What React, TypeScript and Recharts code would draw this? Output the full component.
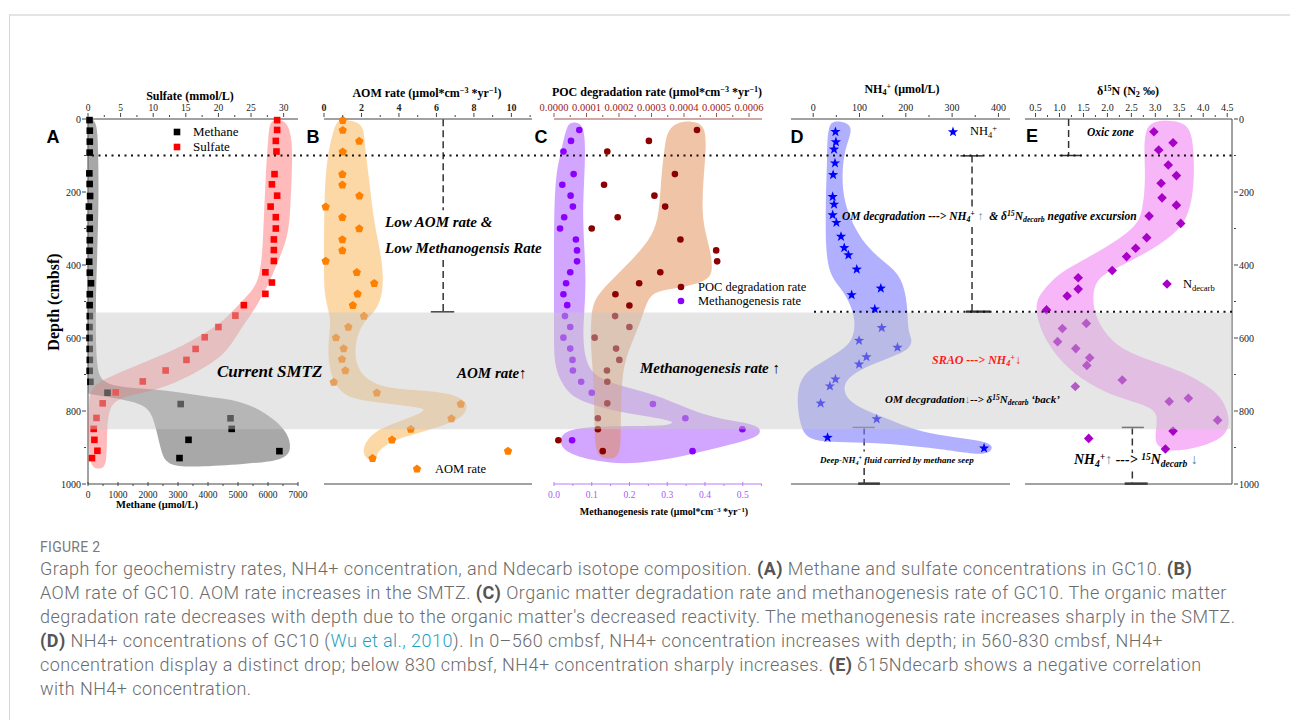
import React from "react";
import {
  ScatterChart,
  Scatter,
  XAxis,
  YAxis,
  ReferenceLine,
  ReferenceArea,
  Curve,
} from "recharts";

const SERIF = "'Liberation Serif', 'Times New Roman', serif";
const SANS = "'Liberation Sans', Arial, sans-serif";
const AX = "#444";

type Pt = [number, number]; // [value, depth cmbsf]

// ---------- Panel A ----------
const methane: Pt[] = [
  [50, 3], [60, 32], [60, 62], [55, 92], [45, 149], [55, 178], [70, 211], [30, 240],
  [55, 270], [60, 301], [60, 332], [50, 361], [40, 391], [60, 421], [100, 450], [60, 480],
  [55, 510], [60, 540], [50, 570], [50, 600], [55, 630], [60, 660], [55, 690], [80, 720],
  [650, 750], [3090, 781], [4750, 820], [4790, 849], [3350, 879], [6380, 910], [3050, 929],
];
const sulfate: Pt[] = [
  [29.0, 3], [29.0, 30], [28.8, 60], [28.9, 89], [28.6, 151], [28.2, 179], [29.0, 210],
  [28.0, 240], [28.8, 269], [28.8, 300], [28.5, 330], [28.5, 359], [28.5, 389], [27.2, 420],
  [28.2, 448], [27.2, 479], [23.9, 510], [22.6, 539], [20.0, 570], [17.9, 598], [16.5, 630],
  [15.1, 660], [11.9, 689], [8.4, 719], [4.25, 749], [2.25, 779], [1.3, 819], [0.87, 849],
  [0.98, 879], [1.44, 909], [0.61, 929],
];
const methaneBand: Pt[] = [
  [0, 0], [0, 0], [300, 0], [340, 85], [360, 220], [300, 390], [260, 500], [260, 600],
  [290, 670], [400, 722], [1200, 736], [2100, 740], [3000, 748], [3900, 760], [4800, 768],
  [5560, 788], [6230, 824], [6660, 860], [6800, 907], [6500, 936], [5230, 945], [3560, 954],
  [2600, 950], [2430, 907], [2280, 852], [2110, 802], [1780, 780], [1000, 766], [220, 756],
  [0, 752], [0, 752], [0, 400],
];
const sulfateBand: Pt[] = [
  [28.0, 1], [30.3, 1], [31.1, 39], [31.4, 94], [31.1, 213], [30.9, 286], [30.3, 341],
  [29.2, 386], [28.0, 441], [25.9, 514], [23.5, 572], [21.5, 633], [19.1, 669], [14.5, 715],
  [9.9, 747], [4.8, 762], [3.2, 790], [2.9, 852], [2.9, 945], [2.1, 960], [0.4, 957],
  [0.05, 898], [0.05, 816], [0.2, 761], [0.6, 736], [2.5, 712], [6.9, 679], [11.9, 643],
  [15.3, 613], [18.8, 578], [21.4, 543], [24.2, 488], [26.5, 445], [26.9, 304], [27.2, 167],
  [27.7, 30],
];

// ---------- Panel B ----------
const aom: Pt[] = [
  [1.0, 3], [1.0, 30], [1.88, 60], [1.0, 89], [0.98, 151], [0.98, 180], [1.89, 210],
  [0.09, 240], [0.98, 269], [1.88, 300], [0.98, 330], [0.98, 360], [0.09, 389], [1.75, 420],
  [2.68, 450], [1.79, 479], [1.54, 510], [2.13, 540], [1.3, 570], [0.64, 599], [1.05, 629],
  [0.96, 658], [1.14, 689], [0.52, 721], [2.82, 750], [7.3, 781], [6.8, 821], [4.63, 850],
  [3.63, 879], [9.82, 910], [2.59, 930],
];
const aomBand: Pt[] = [
  [0.68, 5], [0.95, -1], [2.05, 8], [2.15, 48], [2.25, 103], [2.42, 167], [2.6, 258],
  [2.88, 332], [3.15, 405], [3.15, 478], [2.78, 525], [2.15, 553], [1.8, 590], [1.62, 633],
  [1.8, 695], [3.0, 738], [5.5, 743], [7.2, 757], [7.75, 784], [7.4, 819], [6.25, 842],
  [4.65, 865], [3.6, 883], [2.8, 910], [2.8, 942], [2.15, 930], [2.05, 898], [2.6, 858],
  [3.7, 834], [4.9, 812], [5.55, 795], [4.75, 788], [3.15, 778], [1.5, 768], [0.7, 740],
  [0.28, 688], [0.2, 624], [0.36, 560], [0.28, 532], [0.0, 478], [0.0, 405], [0.0, 258],
  [0.1, 121], [0.45, 39],
];

// ---------- Panel C ----------
const methanogenesis: Pt[] = [
  [0.067, 30], [0.045, 60], [0.025, 89], [0.052, 151], [0.022, 180], [0.044, 210],
  [0.05, 240], [0.027, 269], [0.016, 300], [0.058, 330], [0.061, 360], [0.061, 390],
  [0.043, 420], [0.032, 450], [0.025, 480], [0.035, 510], [0.029, 540], [0.043, 570],
  [0.025, 599], [0.043, 629], [0.049, 660], [0.05, 689], [0.072, 720], [0.1, 750],
  [0.262, 781], [0.348, 820], [0.499, 850], [0.048, 880], [0.367, 910],
];
const poc: Pt[] = [
  [0.00044, 30], [0.000292, 60], [0.000164, 89], [0.000372, 151], [0.000154, 180],
  [0.000309, 210], [0.000342, 240], [0.000196, 269], [0.000116, 300], [0.000389, 330],
  [0.000499, 360], [0.000502, 390], [0.000327, 420], [0.000262, 450], [0.000189, 480],
  [0.000232, 511], [0.000188, 540], [0.000232, 570], [0.000125, 599], [0.000191, 629],
  [0.000201, 660], [0.000163, 689], [0.000164, 720], [0.000164, 779], [0.000135, 820],
  [0.000135, 850], [0.0000134, 880], [0.00015, 910],
];
const methanogenesisBand: Pt[] = [
  [0.036, 19], [0.042, 9], [0.08, 9], [0.083, 89], [0.08, 167], [0.076, 258], [0.08, 350],
  [0.085, 441], [0.08, 532], [0.076, 605], [0.085, 667], [0.106, 703], [0.168, 730],
  [0.266, 753], [0.354, 794], [0.434, 822], [0.53, 835], [0.55, 852], [0.54, 872],
  [0.468, 892], [0.362, 919], [0.273, 937], [0.184, 946], [0.112, 937], [0.04, 919],
  [0.012, 889], [0.022, 859], [0.069, 845], [0.166, 841], [0.228, 841], [0.305, 840],
  [0.322, 829], [0.27, 818], [0.156, 800], [0.084, 777], [0.04, 755], [0.016, 715],
  [0.0, 669], [0.0, 578], [0.0, 487], [0.0, 395], [0.0, 258], [0.005, 149], [0.018, 94],
  [0.027, 48],
];
const pocBand: Pt[] = [
  [0.00035, 30], [0.000379, 10], [0.00042, 5], [0.000464, 14], [0.000469, 76],
  [0.000459, 167], [0.000454, 277], [0.000479, 350], [0.00049, 414], [0.000474, 443],
  [0.000399, 461], [0.000319, 470], [0.000289, 489], [0.000269, 551], [0.000238, 615],
  [0.000212, 679], [0.000207, 761], [0.000205, 852], [0.000205, 927], [0.000163, 933],
  [0.000129, 923], [0.000124, 852], [0.000124, 761], [0.000118, 669], [0.000113, 624],
  [0.000113, 532], [0.000129, 485], [0.00018, 439], [0.000252, 375], [0.000304, 320],
  [0.000324, 258], [0.000329, 167], [0.00034, 76],
];

// ---------- Panel D ----------
const nh4: Pt[] = [
  [48, 35], [49, 63], [45, 83], [47, 121], [43, 153], [42, 213], [45, 234], [42, 263],
  [50, 284], [60, 322], [67, 353], [76, 373], [94, 412], [146, 464], [83, 482], [133, 521],
  [148, 572], [99, 607], [182, 626], [115, 652], [99, 672], [48, 713], [36, 732], [16, 779],
  [137, 822], [31, 873], [369, 902],
];
const nh4Band: Pt[] = [
  [34, 19], [43, 4], [74, 9], [85, 30], [70, 76], [63, 131], [63, 195], [74, 258],
  [103, 332], [146, 386], [186, 423], [200, 478], [204, 532], [205, 585], [215, 605],
  [207, 633], [168, 652], [124, 674], [81, 701], [63, 733], [74, 770], [110, 797],
  [168, 825], [218, 852], [290, 870], [355, 879], [392, 893], [380, 918], [346, 918],
  [274, 904], [180, 891], [108, 886], [36, 886], [-9, 877], [-25, 852], [-34, 797],
  [-34, 733], [-16, 692], [20, 665], [63, 633], [86, 605], [92, 551], [77, 496], [56, 459],
  [34, 423], [27, 350], [27, 277], [27, 213], [30, 121], [30, 58],
];

// ---------- Panel E ----------
const ndecarb: Pt[] = [
  [2.97, 35], [3.37, 65], [3.07, 85], [3.27, 126], [3.44, 155], [3.12, 176], [3.14, 216],
  [3.44, 236], [2.87, 266], [3.53, 286], [2.82, 325], [2.59, 354], [2.4, 377], [2.1, 415],
  [1.39, 435], [1.39, 466], [1.16, 485], [0.73, 523], [1.56, 560], [1.06, 574], [0.96, 610],
  [1.34, 629], [1.63, 654], [1.57, 675], [2.31, 715], [1.33, 733], [3.29, 774], [3.69, 765],
  [4.3, 825], [3.37, 855], [1.61, 875], [3.21, 904],
];
const ndecarbBand: Pt[] = [
  [2.8, 30], [2.92, 8], [3.23, 3], [3.64, 10], [3.78, 48], [3.81, 121], [3.8, 195],
  [3.67, 277], [3.32, 324], [2.77, 370], [2.21, 407], [1.79, 434], [1.69, 478], [1.72, 532],
  [1.93, 585], [2.28, 631], [2.91, 662], [3.6, 694], [4.02, 726], [4.37, 758], [4.56, 816],
  [4.51, 862], [4.16, 891], [3.44, 914], [3.0, 900], [3.0, 861], [3.06, 808], [2.87, 787],
  [2.24, 764], [1.61, 727], [1.06, 671], [0.71, 607], [0.54, 551], [0.5, 505], [0.61, 476],
  [0.99, 421], [1.54, 384], [2.24, 330], [2.59, 293], [2.73, 258], [2.8, 167], [2.76, 76],
];

// ---------- ticks ----------
const depthTicks = [0, 100, 200, 300, 400, 500, 600, 700, 800, 900, 1000];
const depthMajors = [0, 200, 400, 600, 800, 1000];
const sulfateTicks = [0, 2.5, 5, 7.5, 10, 12.5, 15, 17.5, 20, 22.5, 25, 27.5, 30];
const sulfateMajors = [0, 5, 10, 15, 20, 25, 30];
const methaneTicks = [0, 500, 1000, 1500, 2000, 2500, 3000, 3500, 4000, 4500, 5000, 5500, 6000, 6500, 7000];
const methaneMajors = [0, 1000, 2000, 3000, 4000, 5000, 6000, 7000];
const aomTicks = [0, 1, 2, 3, 4, 5, 6, 7, 8, 9, 10, 11];
const aomMajors = [0, 2, 4, 6, 8, 10];
const pocTicks = [0, 0.00005, 0.0001, 0.00015, 0.0002, 0.00025, 0.0003, 0.00035, 0.0004, 0.00045, 0.0005, 0.00055, 0.0006];
const pocMajors = [0, 0.0001, 0.0002, 0.0003, 0.0004, 0.0005, 0.0006];
const mgTicks = [0, 0.05, 0.1, 0.15, 0.2, 0.25, 0.3, 0.35, 0.4, 0.45, 0.5, 0.55];
const mgMajors = [0, 0.1, 0.2, 0.3, 0.4, 0.5];
const nh4Ticks = [0, 50, 100, 150, 200, 250, 300, 350, 400];
const nh4Majors = [0, 100, 200, 300, 400];
const dTicks = [0.5, 0.75, 1, 1.25, 1.5, 1.75, 2, 2.25, 2.5, 2.75, 3, 3.25, 3.5, 3.75, 4, 4.25, 4.5];
const dMajors = [0.5, 1, 1.5, 2, 2.5, 3, 3.5, 4, 4.5];

// SMTZ (cmbsf), oxic-zone base and the upper zone boundary used by the guide lines
const SMTZ = [530, 850];
const OXIC_BASE = 100;
const UPPER_BOUND = 528;

const pts = (a: Pt[]) => a.map(([x, y]) => ({ x, y }));

type Side = "top" | "bottom" | "left" | "right";
function tickR(side: Side, majors: number[], fmt: (v: number) => string, color = "#222", fs = 10, bold = false, lineColor = AX) {
  return (p: any) => {
    const v = p.payload.value;
    const x = p.x;
    const y = p.y;
    const major = majors.some((m) => Math.abs(m - v) < 1e-9);
    const L = major ? 4 : 2;
    const tp = { fontFamily: SERIF, fontSize: fs, fill: color, fontWeight: bold ? 700 : 400 };
    if (side === "top" || side === "bottom") {
      return (
        <g>
          <line x1={x} x2={x} y1={y} y2={y - L} stroke={lineColor} />
          {major && (
            <text x={x} y={side === "top" ? y - 6 : y + 12} textAnchor="middle" {...tp}>
              {fmt(v)}
            </text>
          )}
        </g>
      );
    }
    const dx = side === "left" ? -1 : 1;
    return (
      <g>
        <line x1={x} x2={x + dx * L} y1={y} y2={y} stroke={lineColor} />
        {major && (
          <text x={x + dx * 5} y={y + 3.5} textAnchor={side === "left" ? "end" : "start"} {...tp}>
            {fmt(v)}
          </text>
        )}
      </g>
    );
  };
}

const square = (c: string) => (p: any) => <rect x={p.cx - 3.3} y={p.cy - 3.3} width={6.6} height={6.6} fill={c} />;
const dot = (c: string) => (p: any) => <circle cx={p.cx} cy={p.cy} r={3.3} fill={c} />;
const poly = (cx: number, cy: number, n: number, r1: number, r2: number) =>
  Array.from({ length: n }, (_, i) => {
    const a = -Math.PI / 2 + (i * Math.PI * 2) / n;
    const r = i % 2 === 0 ? r1 : r2;
    return `${cx + r * Math.cos(a)},${cy + r * Math.sin(a)}`;
  }).join(" ");
const pentagon = (c: string) => (p: any) => <polygon points={poly(p.cx, p.cy, 5, 4.4, 4.4)} fill={c} />;
const star = (c: string) => (p: any) => <polygon points={poly(p.cx, p.cy, 10, 5.4, 2.2)} fill={c} />;
const diamond = (c: string) => (p: any) => <polygon points={poly(p.cx, p.cy, 4, 4.8, 4.8)} fill={c} />;
const none = () => <g />;
const band = (fill: string, op: number) => (p: any) => (
  <Curve points={p.points} type="basisClosed" fill={fill} fillOpacity={op} stroke="none" />
);

const SHARED = { dataKey: "x", type: "number" as const, interval: 0 as const, tickLine: false, tickSize: 0, height: 30 };
const depthAxis = (hide: boolean, orientation: "left" | "right" = "left") => (
  <YAxis
    yAxisId="d"
    dataKey="y"
    type="number"
    domain={[0, 1000]}
    reversed
    hide={hide}
    orientation={orientation}
    ticks={depthTicks}
    interval={0}
    width={orientation === "left" ? 50 : 40}
    tickLine={false}
    tickSize={0}
    axisLine={{ stroke: AX }}
    tick={tickR(orientation, depthMajors, (v) => String(v))}
  />
);

const Box = ({ left, children }: any) => (
  <div style={{ position: "absolute", left, top: 60 }}>{children}</div>
);

function Txt({ x, y, size, children, anchor, style }: any) {
  return (
    <div
      style={{
        position: "absolute",
        left: x,
        top: y - size * 0.52,
        fontSize: size,
        lineHeight: `${size}px`,
        whiteSpace: "nowrap",
        fontFamily: SERIF,
        color: "#000",
        transform: anchor === "middle" ? "translateX(-50%)" : undefined,
        ...style,
      }}
    >
      {children}
    </div>
  );
}
const BI = { fontWeight: 700, fontStyle: "italic" };
const Sub = ({ children }: any) => <sub style={{ fontSize: "0.68em", lineHeight: 0, verticalAlign: "-0.3em" }}>{children}</sub>;
const Sup = ({ children }: any) => <sup style={{ fontSize: "0.68em", lineHeight: 0, verticalAlign: "0.45em" }}>{children}</sup>;
const Marker = ({ x, y, draw }: any) => (
  <svg width={14} height={14} style={{ position: "absolute", left: x - 7, top: y - 7, overflow: "visible" }}>
    {draw({ cx: 7, cy: 7 })}
  </svg>
);
const Panel = ({ x, y, l }: any) => (
  <div style={{ position: "absolute", left: x, top: y - 10, fontFamily: SANS, fontWeight: 700, fontSize: 18, lineHeight: "20px", transform: "translateX(-50%)" }}>{l}</div>
);

const seg = (x1: number, y1: number, x2: number, y2: number) => [{ x: x1, y: y1 }, { x: x2, y: y2 }];
const DASH = { stroke: "#333", strokeWidth: 1.5, strokeDasharray: "7 4" };
const CAP = { stroke: "#333", strokeWidth: 1.5 };
const DOTS = { stroke: "#111", strokeWidth: 2, strokeDasharray: "2 4.5" };

export default function App() {
  const M = (l: number, r: number) => ({ top: 29, bottom: 6, left: l, right: r });
  const capText = { color: "#6b6b6b" };
  const strong = { fontWeight: 700, color: "#555" };
  return (
    <div style={{ position: "absolute", left: 0, top: 0, width: 1290, height: 720, background: "#fff", overflow: "hidden" }}>
      <style>{`.recharts-surface{overflow:visible}`}</style>
      <div style={{ position: "absolute", left: 9, top: 14, width: 1300, height: 720, borderTop: "2px solid #e4e4e4", borderLeft: "1px solid #d6d6d6" }} />

      {/* A */}
      <Box left={0}>
        <ScatterChart width={311} height={460} margin={M(38, 13)}>
          <XAxis xAxisId="s" {...SHARED} orientation="top" domain={[0, 32.2]} ticks={sulfateTicks} axisLine={{ stroke: AX }} tick={tickR("top", sulfateMajors, (v) => String(v), "#222", 9.5)} />
          <XAxis xAxisId="m" {...SHARED} orientation="bottom" domain={[0, 7000]} ticks={methaneTicks} axisLine={{ stroke: AX }} tick={tickR("bottom", methaneMajors, (v) => String(v), "#222", 9.5)} />
          {depthAxis(false)}
          <Scatter xAxisId="m" yAxisId="d" data={pts(methaneBand)} shape={none} line={band("#6e6e6e", 0.6)} isAnimationActive={false} />
          <Scatter xAxisId="s" yAxisId="d" data={pts(sulfateBand)} shape={none} line={band("#ff3030", 0.33)} isAnimationActive={false} />
          <Scatter xAxisId="m" yAxisId="d" data={pts(methane)} shape={square("#000")} isAnimationActive={false} />
          <Scatter xAxisId="s" yAxisId="d" data={pts(sulfate)} shape={square("#ff0000")} isAnimationActive={false} />
        </ScatterChart>
      </Box>

      {/* B */}
      <Box left={311}>
        <ScatterChart width={232} height={460} margin={M(13, 11)}>
          <XAxis xAxisId="t" {...SHARED} orientation="top" domain={[0, 11.1]} ticks={aomTicks} axisLine={{ stroke: AX }} tick={tickR("top", aomMajors, (v) => String(v), "#222", 10, true)} />
          <XAxis xAxisId="b" {...SHARED} orientation="bottom" domain={[0, 11.1]} ticks={aomTicks} axisLine={{ stroke: AX }} tick={tickR("bottom", aomMajors, (v) => String(v), "#222", 10, true)} />
          {depthAxis(true)}
          <Scatter xAxisId="t" yAxisId="d" data={pts(aomBand)} shape={none} line={band("#f9a93a", 0.45)} isAnimationActive={false} />
          <Scatter xAxisId="t" yAxisId="d" data={pts(aom)} shape={pentagon("#ff8000")} isAnimationActive={false} />
          <ReferenceLine xAxisId="t" yAxisId="d" segment={seg(6.36, 0, 6.36, 249)} {...DASH} />
          <ReferenceLine xAxisId="t" yAxisId="d" segment={seg(6.36, 386, 6.36, UPPER_BOUND)} {...DASH} />
          <ReferenceLine xAxisId="t" yAxisId="d" segment={seg(5.7, UPPER_BOUND, 6.95, UPPER_BOUND)} {...CAP} />
        </ScatterChart>
      </Box>

      {/* C */}
      <Box left={543}>
        <ScatterChart width={233} height={460} margin={M(11, 14)}>
          <XAxis xAxisId="p" {...SHARED} orientation="top" domain={[0, 0.00064]} ticks={pocTicks} axisLine={{ stroke: "#a0524f" }} tick={tickR("top", pocMajors, (v) => v.toFixed(4), "#9b2020", 10.5, false, "#a0524f")} />
          <XAxis xAxisId="g" {...SHARED} orientation="bottom" domain={[0, 0.551]} ticks={mgTicks} axisLine={{ stroke: "#b77cf5" }} tick={tickR("bottom", mgMajors, (v) => v.toFixed(1), "#a35cf2", 9.5, false, "#b77cf5")} />
          {depthAxis(true)}
          <Scatter xAxisId="g" yAxisId="d" data={pts(methanogenesisBand)} shape={none} line={band("#a64dff", 0.5)} isAnimationActive={false} />
          <Scatter xAxisId="p" yAxisId="d" data={pts(pocBand)} shape={none} line={band("#e08a50", 0.5)} isAnimationActive={false} />
          <Scatter xAxisId="g" yAxisId="d" data={pts(methanogenesis)} shape={dot("#8a00ff")} isAnimationActive={false} />
          <Scatter xAxisId="p" yAxisId="d" data={pts(poc)} shape={dot("#8b0000")} isAnimationActive={false} />
        </ScatterChart>
      </Box>

      {/* D */}
      <Box left={776}>
        <ScatterChart width={241} height={460} margin={M(15, 7)}>
          <XAxis xAxisId="t" {...SHARED} orientation="top" domain={[-48, 425]} ticks={nh4Ticks} axisLine={{ stroke: AX }} tick={tickR("top", nh4Majors, (v) => String(v))} />
          <XAxis xAxisId="b" {...SHARED} orientation="bottom" domain={[-48, 425]} ticks={nh4Ticks} axisLine={{ stroke: AX }} tick={tickR("bottom", nh4Majors, (v) => String(v))} />
          {depthAxis(true)}
          <Scatter xAxisId="t" yAxisId="d" data={pts(nh4Band)} shape={none} line={band("#7b7bff", 0.6)} isAnimationActive={false} />
          <Scatter xAxisId="t" yAxisId="d" data={pts(nh4)} shape={star("#0000ff")} isAnimationActive={false} />
          <ReferenceLine xAxisId="t" yAxisId="d" segment={seg(343, OXIC_BASE, 343, 249)} {...DASH} />
          <ReferenceLine xAxisId="t" yAxisId="d" segment={seg(343, 296, 343, UPPER_BOUND)} {...DASH} />
          <ReferenceLine xAxisId="t" yAxisId="d" segment={seg(318, 101, 366, 101)} {...CAP} />
          <ReferenceLine xAxisId="t" yAxisId="d" segment={seg(330, UPPER_BOUND, 382, UPPER_BOUND)} stroke="#333" strokeWidth={2.5} />
          <ReferenceLine xAxisId="t" yAxisId="d" segment={seg(110, 845, 110, 911)} {...DASH} />
          <ReferenceLine xAxisId="t" yAxisId="d" segment={seg(110, 956, 110, 1000)} {...DASH} />
          <ReferenceLine xAxisId="t" yAxisId="d" segment={seg(85, 845, 133, 845)} {...CAP} />
          <ReferenceLine xAxisId="t" yAxisId="d" segment={seg(97, 999, 144, 999)} stroke="#333" strokeWidth={2.5} />
        </ScatterChart>
      </Box>

      {/* E */}
      <Box left={1017}>
        <ScatterChart width={255} height={460} margin={M(8, 0)}>
          <XAxis xAxisId="t" {...SHARED} orientation="top" domain={[0.28, 4.6]} ticks={dTicks} axisLine={{ stroke: AX }} tick={tickR("top", dMajors, (v) => v.toFixed(1))} />
          <XAxis xAxisId="b" {...SHARED} orientation="bottom" domain={[0.28, 4.6]} ticks={dTicks} axisLine={{ stroke: AX }} tick={tickR("bottom", dMajors, (v) => v.toFixed(1))} />
          {depthAxis(false, "right")}
          <Scatter xAxisId="t" yAxisId="d" data={pts(ndecarbBand)} shape={none} line={band("#ee6ef0", 0.5)} isAnimationActive={false} />
          <Scatter xAxisId="t" yAxisId="d" data={pts(ndecarb)} shape={diamond("#a800c8")} isAnimationActive={false} />
          <ReferenceLine xAxisId="t" yAxisId="d" segment={seg(1.19, 0, 1.19, OXIC_BASE)} {...DASH} />
          <ReferenceLine xAxisId="t" yAxisId="d" segment={seg(1.0, OXIC_BASE, 1.45, OXIC_BASE)} {...CAP} />
          <ReferenceLine xAxisId="t" yAxisId="d" segment={seg(2.52, 845, 2.52, 915)} {...DASH} />
          <ReferenceLine xAxisId="t" yAxisId="d" segment={seg(2.52, 966, 2.52, 1000)} {...DASH} />
          <ReferenceLine xAxisId="t" yAxisId="d" segment={seg(2.3, 845, 2.76, 845)} {...CAP} />
          <ReferenceLine xAxisId="t" yAxisId="d" segment={seg(2.36, 999, 2.84, 999)} stroke="#333" strokeWidth={2.5} />
        </ScatterChart>
      </Box>

      {/* overlay: SMTZ band and zone boundaries across all panels, x in page pixels */}
      <Box left={0}>
        <div style={{ pointerEvents: "none" }}>
          <ScatterChart width={1290} height={460} margin={{ top: 59, bottom: 36, left: 88, right: 58 }}>
            <XAxis xAxisId="px" dataKey="x" type="number" domain={[88, 1232]} hide />
            <YAxis yAxisId="d" dataKey="y" type="number" domain={[0, 1000]} reversed hide />
            <Scatter xAxisId="px" yAxisId="d" data={[{ x: 89, y: SMTZ[0] }, { x: 1232, y: SMTZ[1] }]} shape={none} isAnimationActive={false} />
            <ReferenceArea xAxisId="px" yAxisId="d" x1={89} x2={1232} y1={SMTZ[0]} y2={SMTZ[1]} fill="#c8c8c8" fillOpacity={0.45} stroke="none" />
            <ReferenceLine xAxisId="px" yAxisId="d" segment={seg(92, OXIC_BASE, 1232, OXIC_BASE)} {...DOTS} />
            <ReferenceLine xAxisId="px" yAxisId="d" segment={seg(814, UPPER_BOUND, 1232, UPPER_BOUND)} {...DOTS} />
          </ScatterChart>
        </div>
      </Box>

      {/* axis titles */}
      <Txt x={190} y={96} size={12} anchor="middle" style={{ fontWeight: 700 }}>Sulfate (mmol/L)</Txt>
      <Txt x={427} y={93} size={12} anchor="middle" style={{ fontWeight: 700 }}>AOM rate (μmol*cm<Sup>−3</Sup> *yr<Sup>−1</Sup>)</Txt>
      <Txt x={657} y={92} size={12} anchor="middle" style={{ fontWeight: 700 }}>POC degradation rate (μmol*cm<Sup>−3</Sup> *yr<Sup>−1</Sup>)</Txt>
      <Txt x={902} y={89} size={12} anchor="middle" style={{ fontWeight: 700 }}>NH<Sub>4</Sub><Sup>+</Sup> (μmol/L)</Txt>
      <Txt x={1128} y={91} size={12} anchor="middle" style={{ fontWeight: 700 }}>δ<Sup>15</Sup>N (N<Sub>2</Sub> ‰)</Txt>
      <Txt x={157} y={505} size={10.5} anchor="middle" style={{ fontWeight: 700 }}>Methane (μmol/L)</Txt>
      <Txt x={664} y={512} size={10} anchor="middle" style={{ fontWeight: 700 }}>Methanogenesis rate (μmol*cm<Sup>−3</Sup> *yr<Sup>−1</Sup>)</Txt>
      <div style={{ position: "absolute", left: 54, top: 302, transform: "translate(-50%, -50%) rotate(-90deg)", fontFamily: SERIF, fontWeight: 700, fontSize: 16, whiteSpace: "nowrap" }}>Depth (cmbsf)</div>

      {/* panel letters */}
      <Panel x={53} y={137} l="A" />
      <Panel x={313} y={137} l="B" />
      <Panel x={541} y={137} l="C" />
      <Panel x={797} y={137} l="D" />
      <Panel x={1032} y={136} l="E" />

      {/* legends */}
      <Marker x={177} y={132} draw={square("#000")} />
      <Txt x={193} y={132} size={13}>Methane</Txt>
      <Marker x={177} y={147} draw={square("#ff0000")} />
      <Txt x={193} y={147} size={13}>Sulfate</Txt>
      <Marker x={417} y={469} draw={pentagon("#ff8000")} />
      <Txt x={435} y={469} size={12.5}>AOM rate</Txt>
      <Marker x={681} y={287} draw={dot("#8b0000")} />
      <Txt x={698} y={287} size={12.5}>POC degradation rate</Txt>
      <Marker x={681} y={301} draw={dot("#8a00ff")} />
      <Txt x={698} y={301} size={12.5}>Methanogenesis rate</Txt>
      <Marker x={953} y={132} draw={star("#0000ff")} />
      <Txt x={970} y={131} size={12.5}>NH<Sub>4</Sub><Sup>+</Sup></Txt>
      <Marker x={1167} y={284} draw={diamond("#a800c8")} />
      <Txt x={1183} y={284} size={12.5}>N<Sub>decarb</Sub></Txt>

      {/* annotations */}
      <Txt x={217} y={372} size={17} style={BI}>Current SMTZ</Txt>
      <Txt x={385} y={223} size={15} style={BI}>Low AOM rate &amp;</Txt>
      <Txt x={385} y={249} size={15} style={BI}>Low Methanogensis Rate</Txt>
      <Txt x={457} y={374} size={15} style={BI}>AOM rate↑</Txt>
      <Txt x={640} y={369} size={15} style={BI}>Methanogenesis rate ↑</Txt>
      <Txt x={842} y={217} size={11.5} style={BI}>
        OM decgradation ---&gt; NH<Sub>4</Sub><Sup>+</Sup> <span style={{ color: "#5a7fa6" }}>↑</span>&nbsp; &amp; δ<Sup>15</Sup>N<Sub>decarb</Sub> negative excursion
      </Txt>
      <Txt x={932} y={360} size={12} style={{ ...BI, color: "#ff1a1a" }}>SRAO ---&gt; NH<Sub>4</Sub><Sup>+</Sup>↓</Txt>
      <Txt x={885} y={400} size={11} style={BI}>
        OM decgradation<span style={{ color: "#5a7fa6" }}>↓</span>--&gt; δ<Sup>15</Sup>N<Sub>decarb</Sub> ‘back’
      </Txt>
      <Txt x={820} y={461} size={9} style={BI}>Deep-NH<Sub>4</Sub><Sup>+</Sup> fluid carried by methane seep</Txt>
      <Txt x={1087} y={133} size={11.5} style={BI}>Oxic zone</Txt>
      <Txt x={1074} y={460} size={14} style={BI}>
        NH<Sub>4</Sub><Sup>+</Sup><span style={{ color: "#5a7fa6" }}>↑</span> ---&gt; <Sup>15</Sup>N<Sub>decarb</Sub> <span style={{ color: "#5a7fa6" }}>↓</span>
      </Txt>

      {/* caption */}
      <div style={{ position: "absolute", left: 40, top: 539, fontFamily: "Roboto, sans-serif", fontSize: 14, color: "#7a7a7a", letterSpacing: 0.3, lineHeight: "16px" }}>FIGURE 2</div>
      <div style={{ position: "absolute", left: 40, top: 557, fontFamily: "Roboto, sans-serif", fontWeight: 300, fontSize: 18, letterSpacing: 0.45, lineHeight: "24px", whiteSpace: "nowrap", ...capText }}>
        Graph for geochemistry rates, NH4+ concentration, and Ndecarb isotope composition. <b style={strong}>(A)</b> Methane and sulfate concentrations in GC10. <b style={strong}>(B)</b>
        <br />
        AOM rate of GC10. AOM rate increases in the SMTZ. <b style={strong}>(C)</b> Organic matter degradation rate and methanogenesis rate of GC10. The organic matter
        <br />
        degradation rate decreases with depth due to the organic matter's decreased reactivity. The methanogenesis rate increases sharply in the SMTZ.
        <br />
        <b style={strong}>(D)</b> NH4+ concentrations of GC10 (<span style={{ color: "#1f9fbf" }}>Wu et al., 2010</span>). In 0–560 cmbsf, NH4+ concentration increases with depth; in 560-830 cmbsf, NH4+
        <br />
        concentration display a distinct drop; below 830 cmbsf, NH4+ concentration sharply increases. <b style={strong}>(E)</b> δ15Ndecarb shows a negative correlation
        <br />
        with NH4+ concentration.
      </div>
    </div>
  );
}
